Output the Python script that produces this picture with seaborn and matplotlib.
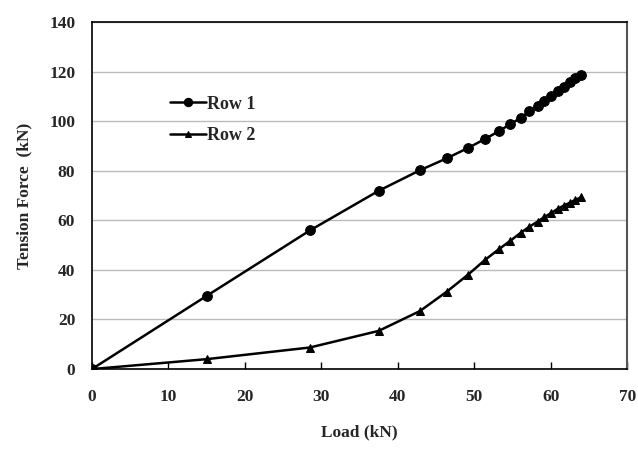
import matplotlib
matplotlib.use("Agg")
import matplotlib.pyplot as plt
import seaborn as sns
import pandas as pd

load = [0, 15.0, 28.5, 37.5, 42.9, 46.4, 49.2, 51.4, 53.2, 54.7, 56.1, 57.2,
        58.3, 59.1, 60.1, 60.9, 61.7, 62.5, 63.2, 64.0]
row1 = [0, 29.5, 55.9, 71.9, 80.2, 85.0, 89.2, 92.8, 95.9, 98.8, 101.3, 104.0,
        106.2, 108.3, 110.3, 112.2, 113.9, 115.7, 117.3, 118.7]
row2 = [0, 4.0, 8.7, 15.4, 23.4, 31.2, 38.1, 44.0, 48.3, 51.7, 55.0, 57.4,
        59.5, 61.2, 63.0, 64.6, 65.9, 67.1, 68.2, 69.3]
series_names = ["Row 1", "Row 2"]
x_ticks = [0, 10, 20, 30, 40, 50, 60, 70]
y_ticks = [0, 20, 40, 60, 80, 100, 120, 140]

df = pd.DataFrame({
    "Load": load * 2,
    "Force": row1 + row2,
    "Series": [series_names[0]] * len(load) + [series_names[1]] * len(load),
})

sns.set_theme(style="white")
plt.rcParams['font.family'] = ['Liberation Serif', 'DejaVu Serif']
plt.rcParams['font.weight'] = 'bold'

fig = plt.figure(figsize=(6.38, 4.49), dpi=100)
ax = fig.add_axes([0.144, 0.178, 0.839, 0.773])

sns.lineplot(data=df, x="Load", y="Force", hue="Series", style="Series",
             markers={"Row 1": "o", "Row 2": "^"}, dashes=False,
             palette={"Row 1": "black", "Row 2": "black"},
             markersize=7, markeredgecolor="black", linewidth=1.8, ax=ax,
             legend=True)
for line in ax.lines:
    if line.get_marker() == "^":
        line.set_markersize(5.5)

ax.set_xlim(0, 70)
ax.set_ylim(0, 140)
ax.set_xticks(x_ticks)
ax.set_yticks(y_ticks)
ax.set_xticklabels([str(t) for t in x_ticks], fontsize=12.5, fontweight='bold')
ax.set_yticklabels([str(t) for t in y_ticks], fontsize=12.5, fontweight='bold')
ax.yaxis.grid(True, color="#bbbbbb", linewidth=1)
ax.xaxis.grid(False)
ax.set_axisbelow(True)

ax.tick_params(axis="x", direction="in", length=5, width=1, color="black", pad=14, bottom=True)
ax.tick_params(axis="y", direction="out", length=0, pad=12, left=True)

for s in ["left", "bottom", "top"]:
    ax.spines[s].set_color("black")
    ax.spines[s].set_linewidth(1.2)
ax.spines["right"].set_color("#555555")
ax.spines["right"].set_linewidth(1.5)

ax.set_xlabel("Load (kN)", fontsize=12.5, fontweight='bold', labelpad=14)
ax.set_ylabel("Tension Force  (kN)", fontsize=12.5, fontweight='bold', labelpad=12)

leg = ax.legend(loc="upper left", bbox_to_anchor=(0.115, 0.835), frameon=False,
                handlelength=2.0, handletextpad=0.05, labelspacing=0.8,
                prop={'weight': 'bold', 'size': 13})
for h in leg.legend_handles:
    h.set_linewidth(1.8)
    if h.get_marker() == "o":
        h.set_markersize(6)
    else:
        h.set_markersize(4.5)

fig.savefig("out.png", dpi=100)
